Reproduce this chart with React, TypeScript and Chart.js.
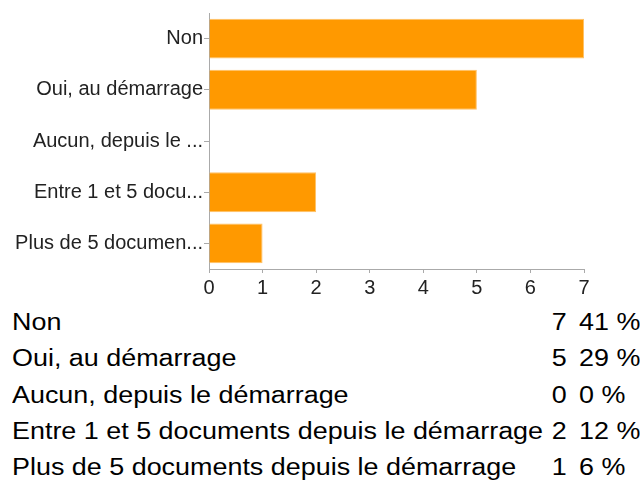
import React, { useEffect, useRef } from "react";
import { Chart, registerables } from "chart.js";

Chart.register(...registerables);

const categories = [
  "Non",
  "Oui, au démarrage",
  "Aucun, depuis le démarrage",
  "Entre 1 et 5 documents depuis le démarrage",
  "Plus de 5 documents depuis le démarrage",
];
const tickLabels = [
  "Non",
  "Oui, au démarrage",
  "Aucun, depuis le ...",
  "Entre 1 et 5 docu...",
  "Plus de 5 documen...",
];
const counts = [7, 5, 0, 2, 1];
const percents = ["41 %", "29 %", "0 %", "12 %", "6 %"];
const xTicks = [0, 1, 2, 3, 4, 5, 6, 7];

const FONT = "'Liberation Sans', Arial, Helvetica, sans-serif";

export default function App() {
  const canvasRef = useRef<HTMLCanvasElement | null>(null);

  useEffect(() => {
    const canvas = canvasRef.current;
    if (!canvas) return;
    const chart = new Chart(canvas, {
      type: "bar",
      data: {
        labels: tickLabels,
        datasets: [
          {
            data: counts,
            backgroundColor: "#ff9900",
            borderColor: "#ffc266",
            borderWidth: 1,
            categoryPercentage: 0.78,
            barPercentage: 1,
          },
        ],
      },
      options: {
        indexAxis: "y",
        animation: false,
        responsive: false,
        maintainAspectRatio: false,
        layout: { padding: { top: 12, right: 56, left: 0, bottom: 0 } },
        plugins: { legend: { display: false }, tooltip: { enabled: false } },
        scales: {
          x: {
            min: xTicks[0],
            max: xTicks[xTicks.length - 1],
            afterFit: (s: any) => {
              s.height = 31;
            },
            ticks: {
              stepSize: 1,
              color: "#222",
              font: { family: FONT, size: 20 },
              padding: 3,
            },
            grid: {
              drawOnChartArea: false,
              drawTicks: true,
              tickLength: 4,
              color: "#aaa",
            },
            border: { display: true, color: "#aaa", width: 1 },
          },
          y: {
            afterFit: (s: any) => {
              s.width = 209;
            },
            ticks: {
              color: "#222",
              font: { family: FONT, size: 20 },
              padding: 1,
            },
            grid: {
              offset: false,
              drawOnChartArea: false,
              drawTicks: true,
              tickLength: 5,
              color: "#aaa",
            },
            border: { display: true, color: "#aaa", width: 1 },
          },
        },
      },
    });
    return () => chart.destroy();
  }, []);

  const rowTop = 304;
  const rowH = 36.25;
  const sx = 1.17;
  const cell: React.CSSProperties = {
    position: "absolute",
    fontSize: 23,
    lineHeight: "36px",
    whiteSpace: "nowrap",
    color: "#000",
  };

  return (
    <div
      style={{
        position: "fixed",
        left: 0,
        top: 0,
        width: 640,
        height: 485,
        overflow: "hidden",
        background: "#fff",
        fontFamily: FONT,
      }}
    >
      <canvas
        ref={canvasRef}
        width={640}
        height={300}
        style={{ position: "absolute", left: 0, top: 0, width: 640, height: 300 }}
      />
      {categories.map((c, i) => (
        <React.Fragment key={c}>
          <div
            style={{
              ...cell,
              left: 12,
              top: rowTop + i * rowH,
              transform: `scaleX(${sx})`,
              transformOrigin: "left center",
            }}
          >
            {c}
          </div>
          <div
            style={{
              ...cell,
              right: 640 - 567,
              top: rowTop + i * rowH,
              textAlign: "right",
              transform: `scaleX(${sx})`,
              transformOrigin: "right center",
            }}
          >
            {counts[i]}
          </div>
          <div
            style={{
              ...cell,
              left: 579,
              top: rowTop + i * rowH,
              transform: `scaleX(${sx})`,
              transformOrigin: "left center",
            }}
          >
            {percents[i]}
          </div>
        </React.Fragment>
      ))}
    </div>
  );
}
